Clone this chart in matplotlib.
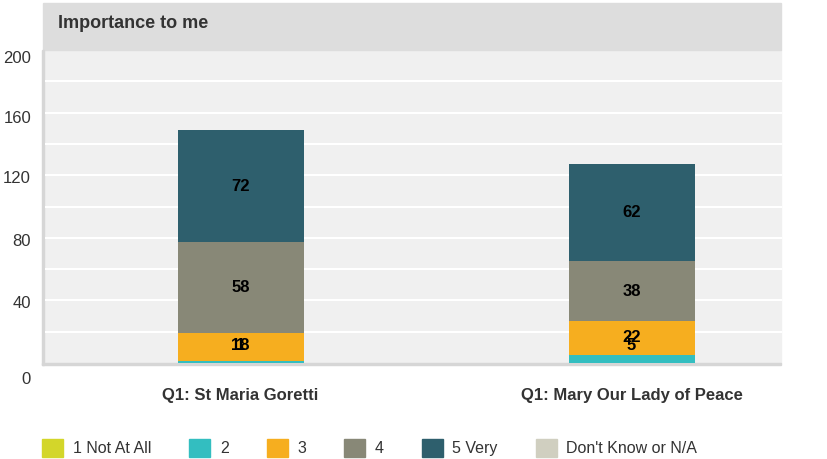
import matplotlib

matplotlib.use('Agg')
import matplotlib.pyplot as plt
from matplotlib.patches import Rectangle
from matplotlib.transforms import ScaledTranslation

plt.rcParams['font.family'] = ['Liberation Sans', 'DejaVu Sans']

categories = ["Q1: St Maria Goretti", "Q1: Mary Our Lady of Peace"]
series = ["1 Not At All", "2", "3", "4", "5 Very", "Don't Know or N/A"]
values = [
    [0, 0],     # 1 Not At All
    [1, 5],     # 2
    [18, 22],   # 3
    [58, 38],   # 4
    [72, 62],   # 5 Very
    [0, 0],     # Don't Know or N/A
]
colors = ['#d3d62a', '#33bec0', '#f6ae1f', '#888877', '#2e5f6d', '#d0cfc0']
yticks = [0, 40, 80, 120, 160, 200]

W, H = 827, 459
fig = plt.figure(figsize=(W / 100, H / 100), dpi=100)
ax = fig.add_axes([45 / W, (H - 363) / H, 782 / W, 313 / H])
ax.set_zorder(2)
ax.set_xlim(-0.5, 1.5)
ax.set_ylim(0, 200)
ax.set_facecolor('none')
for s in ax.spines.values():
    s.set_visible(False)

# plot background, clipped at the right like the original
fig.patches.append(Rectangle((45 / W, (H - 363) / H), 736 / W, 313 / H,
                             transform=fig.transFigure, color='#f0f0f0', zorder=0))
fig.patches.append(Rectangle((43 / W, (H - 50) / H), 738 / W, 47 / H,
                             transform=fig.transFigure, color='#dddddd', zorder=0))
fig.patches.append(Rectangle((42 / W, (H - 365) / H), 2 / W, 315 / H,
                             transform=fig.transFigure, color='#d6d6d6', zorder=0))
fig.patches.append(Rectangle((42 / W, (H - 365) / H), 739 / W, 2 / H,
                             transform=fig.transFigure, color='#d6d6d6', zorder=0))
fig.text(58 / W, 1 - 23 / H, "Importance to me", fontsize=13, fontweight='bold',
         color='#333333', va='center', ha='left')

for g in range(20, 200, 20):
    ax.plot([-0.5, 1.5 - 46 / 391], [g, g], color='white', lw=1.5, zorder=1)

width = 126 / 391
bottoms = [0, 0]
for vals, col in zip(values, colors):
    ax.bar(range(len(categories)), vals, width, bottom=bottoms, color=col, zorder=2)
    for i, v in enumerate(vals):
        if v > 0:
            yc = max(bottoms[i] + v / 2, 11)
            ax.text(i, yc, str(v), ha='center', va='center', fontsize=12,
                    fontweight='bold', color='black', zorder=3)
    bottoms = [b + v for b, v in zip(bottoms, vals)]

ax.set_yticks(yticks)
ax.set_yticklabels([str(t) for t in yticks], fontsize=12, color='#333333')
ax.tick_params(axis='y', length=0, pad=10)
# the original draws its axis labels a little lower than the gridlines
label_shift = [15, 2, 2, 2, 4, 7]
for lab, dy in zip(ax.get_yticklabels(), label_shift):
    lab.set_transform(lab.get_transform() + ScaledTranslation(0, -dy / 100, fig.dpi_scale_trans))
ax.set_xticks(range(len(categories)))
ax.set_xticklabels(categories, fontsize=12, fontweight='bold', color='#333333')
ax.tick_params(axis='x', length=0, pad=18)

# legend
handles = [Rectangle((0, 0), 1, 1, color=c) for c in colors]
fig.legend(handles, series, loc='center left', bbox_to_anchor=(28 / W, 1 - 448 / H),
           ncol=6, frameon=False, fontsize=11.5, handlelength=1.3, handleheight=1.3,
           columnspacing=2.4, handletextpad=0.6, labelcolor='#333333')

fig.savefig('out.png', dpi=100)
